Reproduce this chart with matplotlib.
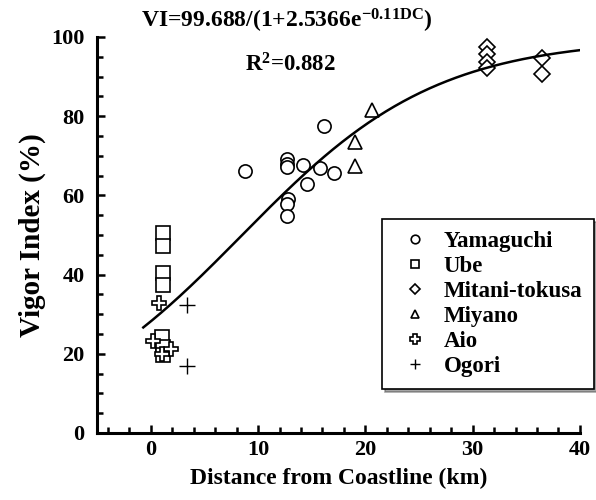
import numpy as np
import matplotlib
matplotlib.use("Agg")
import matplotlib.pyplot as plt
from matplotlib.ticker import MultipleLocator

# ---- data ----
yam_x = [8.8, 12.7, 12.7, 12.7, 14.2, 15.8, 17.1, 16.1, 14.6, 12.8, 12.7, 12.7]
yam_y = [66.2, 69.2, 67.9, 67.1, 67.7, 67.0, 65.7, 77.6, 63.0, 59.1, 57.8, 54.8]
ube_x = [1.1, 1.1, 1.1, 1.1, 1.0, 1.1, 1.1]
ube_y = [50.4, 47.1, 40.5, 37.4, 24.3, 21.6, 19.8]
mit_x = [31.3, 31.3, 31.3, 31.3, 36.5, 36.5]
mit_y = [97.4, 95.7, 93.8, 92.1, 94.8, 90.7]
miy_x = [20.6, 19.0, 19.0]
miy_y = [81.6, 73.6, 67.4]
aio_x = [0.8, 0.2, 1.9, 1.0]
aio_y = [32.8, 23.3, 21.2, 20.0]
ogo_x = [3.4, 3.4]
ogo_y = [32.3, 17.0]

# fitted logistic model shown on the chart
fit_a, fit_b, fit_k = 99.688, 2.5366, 0.11
fit_range = (-0.7, 40.0)

plt.rcParams['font.family'] = ['Liberation Serif', 'DejaVu Serif']
plt.rcParams['font.weight'] = 'bold'
plt.rcParams['mathtext.fontset'] = 'custom'
plt.rcParams['mathtext.rm'] = 'Liberation Serif:bold'
plt.rcParams['mathtext.bf'] = 'Liberation Serif:bold'
plt.rcParams['mathtext.it'] = 'Liberation Serif:bold'

fig = plt.figure(figsize=(5.96, 5.0), dpi=100)
ax = fig.add_axes([0.163, 0.134, 0.810, 0.792])

xs = np.linspace(fit_range[0], fit_range[1], 300)
ax.plot(xs, fit_a / (1 + fit_b * np.exp(-fit_k * xs)), color='black', lw=1.8, zorder=3)

mk = dict(linestyle='none', markerfacecolor='white', markeredgecolor='black',
          markeredgewidth=1.2, zorder=2)
ax.plot(yam_x, yam_y, marker='o', markersize=9.5, label='Yamaguchi', **mk)
ax.plot(ube_x, ube_y, marker='s', markersize=9.5, label='Ube', **mk)
ax.plot(mit_x, mit_y, marker='D', markersize=8, label='Mitani-tokusa', **mk)
ax.plot(miy_x, miy_y, marker='^', markersize=9.5, label='Miyano', **mk)
ax.plot(aio_x, aio_y, marker='P', markersize=10, label='Aio', **mk)
ax.plot(ogo_x, ogo_y, marker='+', markersize=11, label='Ogori', linestyle='none',
        color='black', markeredgewidth=1.0, zorder=2)

ax.set_xlim(-5, 40)
ax.set_ylim(0, 100)
ax.xaxis.set_major_locator(MultipleLocator(10))
ax.xaxis.set_minor_locator(MultipleLocator(2))
ax.yaxis.set_major_locator(MultipleLocator(20))
ax.yaxis.set_minor_locator(MultipleLocator(5))
for s in ['top', 'right']:
    ax.spines[s].set_visible(False)
for s in ['left', 'bottom']:
    ax.spines[s].set_linewidth(2.2)
ax.tick_params(which='both', direction='in', width=1.8, labelsize=16)
ax.tick_params(which='major', length=6)
ax.tick_params(which='minor', length=4.5)
ax.tick_params(axis='y', pad=9)
ax.tick_params(axis='x', pad=5)
for lab in ax.get_xticklabels() + ax.get_yticklabels():
    lab.set_fontweight('bold')

ax.set_xlabel('Distance from Coastline (km)', fontsize=17, fontweight='bold', labelpad=6)
ax.set_ylabel('Vigor Index (%)', fontsize=21, fontweight='bold', labelpad=4)

fig.text(0.482, 0.958, r'VI=99.688/(1+2.5366e$^{\mathbf{-0.11DC}}$)', ha='center', va='center',
         fontsize=17, fontweight='bold')
fig.text(0.487, 0.870, r'R$^{\mathbf{2}}$=0.882', ha='center', va='center',
         fontsize=16.5, fontweight='bold')

leg = ax.legend(loc='upper left', bbox_to_anchor=(0.59, 0.54), borderaxespad=0,
                frameon=True, fancybox=False, shadow=True, markerscale=0.65,
                prop={'family': 'Liberation Serif', 'weight': 'bold', 'size': 16.5},
                handletextpad=0.3, labelspacing=0.18, borderpad=0.5, handlelength=1.9)
leg.get_frame().set_edgecolor('black')
leg.get_frame().set_linewidth(1.2)
leg.get_frame().set_alpha(1)

fig.savefig('out.png', dpi=100)
